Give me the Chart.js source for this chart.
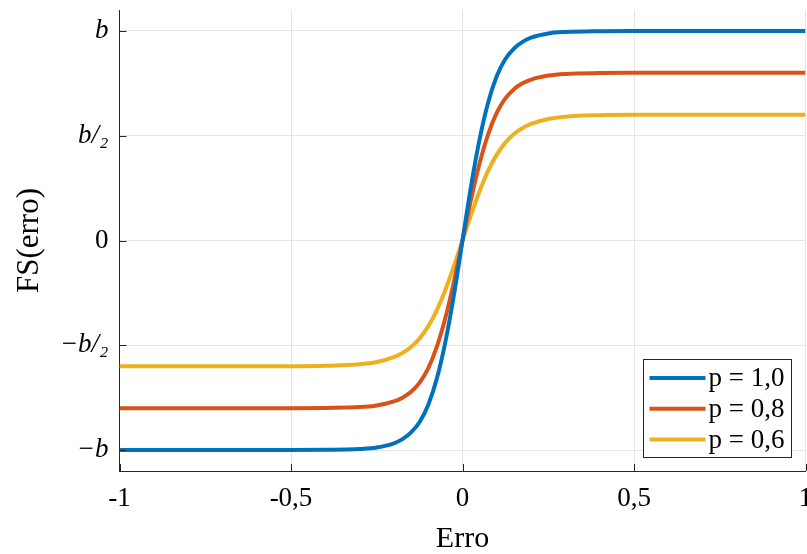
<!DOCTYPE html>
<html>
<head>
<meta charset="utf-8">
<script src="https://cdn.jsdelivr.net/npm/chart.js@4.4.1/dist/chart.umd.min.js"></script>
<style>
  html, body { margin: 0; padding: 0; background: #fff; }
  #wrap { position: relative; width: 807px; height: 554px; }
</style>
</head>
<body>
<div id="wrap"><canvas id="fs-chart"></canvas></div>
<script>
// FS(erro) para três valores de p – curvas

const erro = [-1, -0.5, -0.4, -0.3, -0.25, -0.2, -0.175, -0.15, -0.125, -0.1, -0.075, -0.05, -0.025,
  0, 0.025, 0.05, 0.075, 0.1, 0.125, 0.15, 0.175, 0.2, 0.25, 0.3, 0.4, 0.5, 1];

const fsP10 = [-1, -1, -0.999, -0.995, -0.988, -0.968, -0.948, -0.916, -0.866, -0.785, -0.66, -0.485, -0.26,
  0, 0.26, 0.485, 0.66, 0.785, 0.866, 0.916, 0.948, 0.968, 0.988, 0.995, 0.999, 1, 1];
const fsP08 = [-0.8, -0.8, -0.799, -0.795, -0.787, -0.768, -0.75, -0.722, -0.678, -0.61, -0.508, -0.37, -0.196,
  0, 0.196, 0.37, 0.508, 0.61, 0.678, 0.722, 0.75, 0.768, 0.787, 0.795, 0.799, 0.8, 0.8];
const fsP06 = [-0.6, -0.6, -0.598, -0.591, -0.58, -0.557, -0.537, -0.508, -0.467, -0.41, -0.333, -0.236, -0.122,
  0, 0.122, 0.236, 0.333, 0.41, 0.467, 0.508, 0.537, 0.557, 0.58, 0.591, 0.598, 0.6, 0.6];

const seriesLabels = ['p = 1,0', 'p = 0,8', 'p = 0,6'];
const seriesColors = ['#0072BD', '#D95319', '#EDB120'];

const xTicks = [-1, -0.5, 0, 0.5, 1];
const xTickLabels = ['-1', '-0,5', '0', '0,5', '1'];
const yTicks = [-1, -0.5, 0, 0.5, 1];
const yTickLabels = ['\u2212b', '\u2212b/\u2082', '0', 'b/\u2082', 'b'];

const SERIF = '"Liberation Serif", "DejaVu Serif", serif';
const AXIS_COLOR = '#262626';

function toPoints(ys) {
  return erro.map((x, i) => ({ x: x, y: ys[i] }));
}

const datasets = [fsP10, fsP08, fsP06].map((ys, i) => ({
  label: seriesLabels[i],
  data: toPoints(ys),
  borderColor: seriesColors[i],
  backgroundColor: seriesColors[i],
  borderWidth: 4,
  pointRadius: 0,
  cubicInterpolationMode: 'monotone',
  fill: false
}));

/* ticks para dentro + legenda no canto inferior direito */
const matlabAxes = {
  id: 'matlabAxes',
  afterDraw(chart) {
    const ctx = chart.ctx;
    const a = chart.chartArea;
    const xs = chart.scales.x, ys = chart.scales.y;
    const len = 7;

    ctx.save();
    ctx.strokeStyle = AXIS_COLOR;
    ctx.lineWidth = 1;
    ctx.beginPath();
    xTicks.forEach(v => {
      const px = Math.round(xs.getPixelForValue(v)) + 0.5;
      ctx.moveTo(px, a.bottom);
      ctx.lineTo(px, a.bottom - len);
    });
    yTicks.forEach(v => {
      const py = Math.round(ys.getPixelForValue(v)) + 0.5;
      ctx.moveTo(a.left, py);
      ctx.lineTo(a.left + len, py);
    });
    ctx.stroke();

    // legenda
    const boxW = 148, boxH = 98;
    const bx = Math.round(a.right - 15 - boxW) + 0.5;
    const by = Math.round(a.bottom - 14 - boxH) + 0.5;
    ctx.fillStyle = '#ffffff';
    ctx.fillRect(bx, by, boxW, boxH);
    ctx.strokeStyle = AXIS_COLOR;
    ctx.strokeRect(bx, by, boxW, boxH);

    ctx.font = '27px ' + SERIF;
    ctx.textBaseline = 'middle';
    ctx.textAlign = 'left';
    chart.data.datasets.forEach((ds, i) => {
      const cy = by + 18.5 + i * 30.8;
      ctx.strokeStyle = ds.borderColor;
      ctx.lineWidth = 4;
      ctx.beginPath();
      ctx.moveTo(bx + 6, cy);
      ctx.lineTo(bx + 62, cy);
      ctx.stroke();
      ctx.fillStyle = '#000';
      ctx.fillText(ds.label, bx + 65, cy + 1);
    });
    ctx.restore();
  }
};

new Chart(document.getElementById('fs-chart').getContext('2d'), {
  type: 'line',
  data: { datasets: datasets },
  plugins: [matlabAxes],
  options: {
    responsive: true,
    maintainAspectRatio: false,
    animation: false,
    layout: { padding: { top: 10, right: 1.5, left: 0, bottom: 0 } },
    plugins: {
      legend: { display: false },
      tooltip: { enabled: false }
    },
    scales: {
      x: {
        type: 'linear',
        min: -1,
        max: 1,
        afterBuildTicks: s => { s.ticks = xTicks.map(v => ({ value: v })); },
        afterFit: s => { s.height = 83; s.paddingLeft = 0; s.paddingRight = 0; },
        grid: { color: '#e5e5e5', drawTicks: false, lineWidth: 1 },
        border: { display: true, color: AXIS_COLOR, width: 1 },
        ticks: {
          padding: 12,
          maxRotation: 0,
          autoSkip: false,
          color: '#000',
          font: { family: SERIF, size: 27 },
          callback: v => xTickLabels[xTicks.indexOf(v)]
        },
        title: {
          display: true,
          text: 'Erro',
          color: '#000',
          font: { family: SERIF, size: 30, lineHeight: 1 },
          padding: { top: 0, bottom: 0 }
        }
      },
      y: {
        type: 'linear',
        min: -1.1,
        max: 1.1,
        afterBuildTicks: s => { s.ticks = yTicks.map(v => ({ value: v })); },
        afterFit: s => { s.width = 119.5; s.paddingTop = 0; s.paddingBottom = 0; },
        grid: { color: '#e5e5e5', drawTicks: false, lineWidth: 1 },
        border: { display: true, color: AXIS_COLOR, width: 1 },
        ticks: {
          padding: 11,
          autoSkip: false,
          color: '#000',
          font: ctx => ({
            family: SERIF,
            size: 27,
            style: (ctx.tick && ctx.tick.value !== 0) ? 'italic' : 'normal'
          }),
          callback: v => yTickLabels[yTicks.indexOf(v)]
        },
        title: {
          display: true,
          text: 'FS(erro)',
          color: '#000',
          font: { family: SERIF, size: 31, lineHeight: 1 },
          padding: { top: 14, bottom: 0 }
        }
      }
    }
  }
});
</script>
</body>
</html>
